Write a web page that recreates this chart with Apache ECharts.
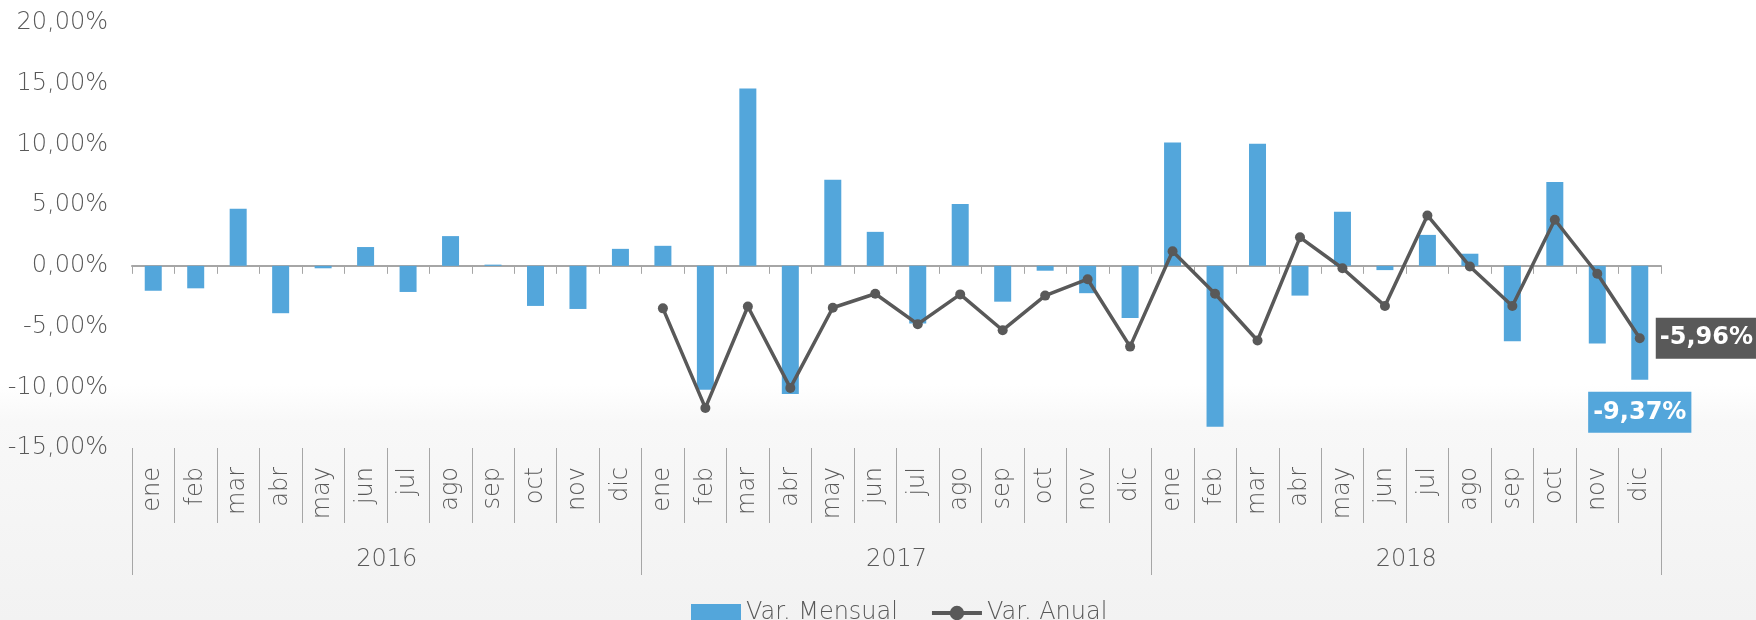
<!DOCTYPE html>
<html>
<head>
<meta charset="utf-8">
<script src="https://cdn.jsdelivr.net/npm/echarts@6/dist/echarts.min.js"></script>
<style>
  html, body { margin: 0; padding: 0; background: #fff; }
  #chart { width: 1756px; height: 620px; }
</style>
</head>
<body>
<div id="chart"></div>
<script>
// 月份 / 年份
var meses = ['ene', 'feb', 'mar', 'abr', 'may', 'jun', 'jul', 'ago', 'sep', 'oct', 'nov', 'dic',
    'ene', 'feb', 'mar', 'abr', 'may', 'jun', 'jul', 'ago', 'sep', 'oct', 'nov', 'dic',
    'ene', 'feb', 'mar', 'abr', 'may', 'jun', 'jul', 'ago', 'sep', 'oct', 'nov', 'dic'];
var anios = ['2016', '2017', '2018'];

// Var. Mensual (%)
var varMensual = [-2.05, -1.85, 4.7, -3.9, -0.2, 1.55, -2.15, 2.45, 0.1, -3.3, -3.55, 1.4,
    1.65, -10.2, 14.6, -10.55, 7.1, 2.8, -4.75, 5.1, -2.95, -0.4, -2.25, -4.3,
    10.15, -13.25, 10.05, -2.45, 4.45, -0.35, 2.55, 1.0, -6.2, 6.9, -6.4, -9.37];

// Var. Anual (%), empieza en 2017
var varAnual = [null, null, null, null, null, null, null, null, null, null, null, null,
    -3.5, -11.7, -3.35, -10.05, -3.45, -2.3, -4.8, -2.35, -5.3, -2.45, -1.1, -6.65,
    1.2, -2.3, -6.15, 2.35, -0.2, -3.3, 4.15, -0.05, -3.3, 3.8, -0.65, -5.96];

var yTicks = { min: -15, max: 20, interval: 5 };

function pct(v) {
    return v.toFixed(2).replace('.', ',') + '%';
}

var azul = '#53A6DB';
var gris = '#595959';
var fuente = 'DejaVu Sans';
var peso = 200;

// solo el ultimo punto lleva etiqueta
var barData = varMensual.map(function (v, i) {
    if (i !== varMensual.length - 1) return v;
    return {
        value: v,
        label: {
            show: true,
            position: 'bottom',
            distance: 12,
            formatter: pct(v),
            color: '#fff',
            fontFamily: fuente,
            fontWeight: 'bold',
            fontSize: 24,
            backgroundColor: azul,
            padding: [9, 5, 8, 5]
        }
    };
});
var lineData = varAnual.map(function (v, i) {
    if (v === null) return '-';
    if (i !== varAnual.length - 1) return v;
    return {
        value: v,
        label: {
            show: true,
            position: 'right',
            distance: 11,
            formatter: pct(v),
            color: '#fff',
            fontFamily: fuente,
            fontWeight: 'bold',
            fontSize: 24,
            backgroundColor: gris,
            padding: [9, 3, 8, 4]
        }
    };
});

var myChart = echarts.init(document.getElementById('chart'));

var option = {
    animation: false,
    backgroundColor: new echarts.graphic.LinearGradient(0, 0, 0, 1, [
        { offset: 0, color: '#ffffff' },
        { offset: 0.62, color: '#ffffff' },
        { offset: 0.68, color: '#f8f8f8' },
        { offset: 1, color: '#f2f2f2' }
    ]),
    textStyle: { fontFamily: fuente },
    grid: {
        left: 132,
        right: 95,
        top: 23,
        bottom: 172
    },
    legend: {
        top: 596,
        left: 686,
        itemWidth: 50,
        itemHeight: 18,
        itemGap: 32,
        textStyle: { color: gris, fontSize: 24, fontFamily: fuente, fontWeight: peso },
        data: [
            { name: 'Var. Mensual', icon: 'rect' },
            { name: 'Var. Anual', lineStyle: { width: 4 } }
        ]
    },
    xAxis: [{
        // meses
        type: 'category',
        position: 'bottom',
        data: meses,
        axisLine: { show: false, onZero: false },
        axisTick: { show: true, interval: 0, length: 75, lineStyle: { color: '#A6A6A6' } },
        axisLabel: { interval: 0, rotate: 90, margin: 19, color: gris, fontSize: 24, fontFamily: fuente, fontWeight: peso }
    }, {
        // años
        type: 'category',
        position: 'bottom',
        data: anios,
        axisLine: { show: false, onZero: false },
        axisTick: { show: true, interval: 0, length: 127, lineStyle: { color: '#A6A6A6' } },
        axisLabel: { interval: 0, margin: 100, color: gris, fontSize: 24, fontFamily: fuente, fontWeight: peso }
    }, {
        // linea del cero
        type: 'category',
        position: 'bottom',
        data: meses,
        axisLine: { show: true, onZero: true, lineStyle: { color: '#A6A6A6', width: 2 } },
        axisTick: { show: true, interval: 0, length: 8, lineStyle: { color: '#A6A6A6' } },
        axisLabel: { show: false }
    }],
    yAxis: {
        type: 'value',
        min: yTicks.min,
        max: yTicks.max,
        interval: yTicks.interval,
        axisLine: { show: false },
        axisTick: { show: false },
        splitLine: { show: false },
        axisLabel: {
            margin: 24,
            color: gris,
            fontSize: 24,
            fontFamily: fuente,
            fontWeight: peso,
            formatter: function (v) { return pct(v); }
        }
    },
    series: [{
        name: 'Var. Mensual',
        type: 'bar',
        xAxisIndex: 0,
        barWidth: 17,
        itemStyle: { color: azul },
        data: barData
    }, {
        name: 'Var. Anual',
        type: 'line',
        xAxisIndex: 0,
        symbol: 'circle',
        symbolSize: 10,
        lineStyle: { color: gris, width: 3.5 },
        itemStyle: { color: gris },
        data: lineData
    }]
};

myChart.setOption(option);
</script>
</body>
</html>
